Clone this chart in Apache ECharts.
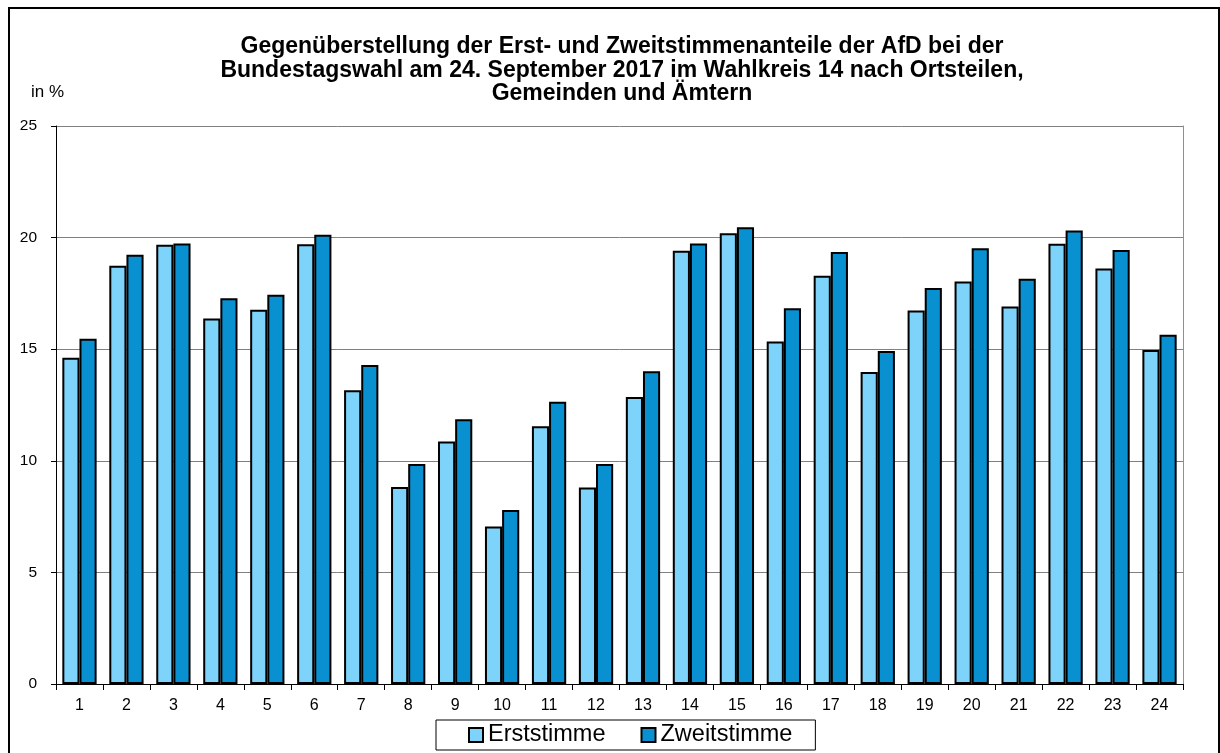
<!DOCTYPE html>
<html>
<head>
<meta charset="utf-8">
<script src="https://cdn.jsdelivr.net/npm/echarts@6/dist/echarts.min.js"></script>
<style>
html,body{margin:0;padding:0;background:#fff;}
#chart{width:1220px;height:753px;}
</style>
</head>
<body>
<div id="chart"></div>
<script>
const categories = ['1','2','3','4','5','6','7','8','9','10','11','12','13','14','15','16','17','18','19','20','21','22','23','24'];
const erststimme = [14.62,18.74,19.68,16.37,16.77,19.70,13.16,8.83,10.87,7.06,11.55,8.80,12.86,19.41,20.20,15.35,18.29,13.98,16.73,18.03,16.91,19.73,18.61,14.96];
const zweitstimme = [15.47,19.23,19.74,17.28,17.44,20.13,14.29,9.86,11.86,7.80,12.65,9.86,14.01,19.74,20.46,16.83,19.35,14.92,17.74,19.52,18.16,20.32,19.44,15.65];
const yTicks = {min:0, max:25, interval:5};
const titleText = 'Gegenüberstellung der Erst- und Zweitstimmenanteile der AfD bei der\nBundestagswahl am 24. September 2017 im Wahlkreis 14 nach Ortsteilen,\nGemeinden und Ämtern';
const unitText = 'in %';

const FONT = '"Liberation Sans", Arial, sans-serif';
const chart = echarts.init(document.getElementById('chart'), null, {renderer:'canvas'});
chart.setOption({
  animation:false,
  backgroundColor:'#fff',
  textStyle:{fontFamily:FONT},
  title:{
    text:titleText,
    left:622, textAlign:'center', top:35, padding:0,
    textStyle:{fontFamily:FONT, fontSize:23, fontWeight:'bold', color:'#000', lineHeight:23.5}
  },
  graphic:[
    {type:'rect', shape:{x:9,y:8,width:1210,height:760}, style:{fill:'none', stroke:'#000', lineWidth:2}, silent:true},
    {type:'text', left:31, top:84, style:{text:unitText, font:'17px "Liberation Sans", Arial, sans-serif', fill:'#000'}}
  ],
  legend:{
    data:['Erststimme','Zweitstimme'],
    left:436, top:720,
    padding:[3,23,3,32],
    itemGap:35,
    itemWidth:14, itemHeight:14,
    icon:'rect',
    borderColor:'#000', borderWidth:1,
    textStyle:{fontFamily:FONT, fontSize:23.5, color:'#000'},
    itemStyle:{borderColor:'#000', borderWidth:2}
  },
  grid:{left:56, right:37, top:126, bottom:69, containLabel:false},
  xAxis:{
    type:'category',
    data:categories,
    axisLine:{lineStyle:{color:'#000', width:1}},
    axisTick:{show:true, length:6, lineStyle:{color:'#000'}},
    axisLabel:{fontFamily:FONT, fontSize:16, color:'#000', margin:14}
  },
  yAxis:[{
    type:'value',
    min:yTicks.min, max:yTicks.max, interval:yTicks.interval,
    axisLine:{show:true, lineStyle:{color:'#000', width:1}},
    axisTick:{show:true, length:5, lineStyle:{color:'#000'}},
    axisLabel:{fontFamily:FONT, fontSize:15.5, color:'#000', margin:19},
    splitLine:{show:true, lineStyle:{color:'#808080', width:1}}
  },{
    type:'value', position:'right',
    min:yTicks.min, max:yTicks.max, interval:yTicks.interval,
    axisLine:{show:true, lineStyle:{color:'#909090', width:1}},
    axisTick:{show:false}, axisLabel:{show:false}, splitLine:{show:false}
  }],
  series:[
    {name:'Erststimme', type:'bar', data:erststimme, barGap:'0%', barCategoryGap:'27%',
     itemStyle:{color:'#7dd3fa', borderColor:'#000', borderWidth:2}},
    {name:'Zweitstimme', type:'bar', data:zweitstimme, barGap:'0%', barCategoryGap:'27%',
     itemStyle:{color:'#0890d0', borderColor:'#000', borderWidth:2}}
  ]
});
</script>
</body>
</html>
